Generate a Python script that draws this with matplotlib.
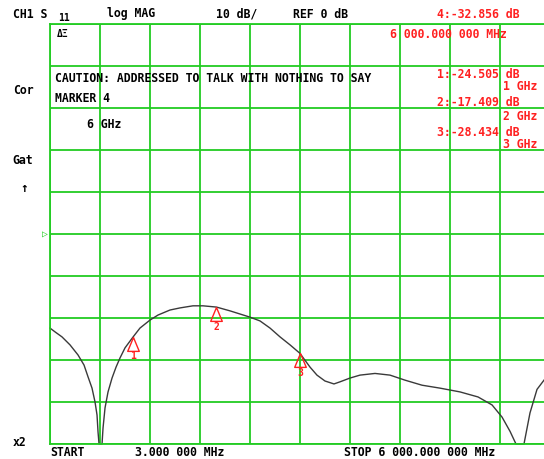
import matplotlib
matplotlib.use("Agg")
import matplotlib.pyplot as plt
from matplotlib.path import Path

# S11 log MAG trace (GHz, dB)
freq_ghz = [0.003, 0.063, 0.147, 0.243, 0.339, 0.411, 0.459, 0.507, 0.543, 0.567,
            0.579, 0.591, 0.627, 0.639, 0.663, 0.699, 0.747, 0.795, 0.843, 0.903,
            1.0, 1.082, 1.202, 1.298, 1.442, 1.562, 1.718, 1.838, 2.0, 2.162,
            2.402, 2.522, 2.642, 2.762, 2.882, 3.0, 3.122, 3.205, 3.301, 3.409,
            3.481, 3.601, 3.721, 3.901, 4.081, 4.261, 4.465, 4.681, 4.921, 5.137,
            5.305, 5.425, 5.521, 5.592, 5.688, 5.760, 5.844, 5.928, 6.0]
mag_db = [-22.4, -23.3, -24.5, -26.4, -28.8, -31.2, -34.0, -36.7, -40.0, -43.1,
          -47.1, -50.0, -50.0, -46.2, -41.4, -37.6, -34.3, -31.7, -29.5, -27.1,
          -24.5, -22.4, -20.5, -19.3, -18.1, -17.6, -17.1, -17.1, -17.4, -18.3,
          -19.8, -20.7, -22.4, -24.5, -26.4, -28.4, -31.7, -33.6, -35.0, -35.7,
          -35.2, -34.3, -33.6, -33.2, -33.6, -34.8, -36.0, -36.7, -37.6, -38.8,
          -40.7, -43.6, -47.0, -50.0, -50.0, -42.6, -37.0, -34.8, -32.9]

marker_freq = [1.0, 2.0, 3.0]
marker_db = [-24.505, -17.409, -28.434]
marker_names = ["1", "2", "3"]
active_freq = 6.0
active_db = -32.856

W, H = 544, 459
GREEN = "#22cc22"
RED = "#ff2020"
FONT = "DejaVu Sans Mono"

fig = plt.figure(figsize=(W / 100, H / 100), dpi=100)
fig.patch.set_facecolor("white")
# screen grid spans x 50..550 px (right edge cut off), y 24..444 px
ax = fig.add_axes([50 / W, 1 - 444 / H, 500 / W, 420 / H])
ax.set_xlim(0.003, 6.0)
ax.set_ylim(-50, 50)
ax.set_xticks([0.003 + i * 5.997 / 10 for i in range(11)])
ax.set_yticks(range(-50, 51, 10))
ax.tick_params(length=0, labelbottom=False, labelleft=False)
ax.grid(True, color=GREEN, lw=1.3)
for s in ax.spines.values():
    s.set_color(GREEN)
    s.set_linewidth(1.3)

ax.plot(freq_ghz, mag_db, color="#3a3a3a", lw=1.0, clip_on=False)

up_tri = Path([(0, 0), (-0.5, -1.2), (0.5, -1.2), (0, 0)])
down_tri = Path([(0, 0), (-0.5, 1.2), (0.5, 1.2), (0, 0)])
for f, d, n in zip(marker_freq, marker_db, marker_names):
    ax.plot([f], [d], marker=up_tri, ms=20, mfc="none", mec=RED, mew=1.0)
    ax.annotate(n, (f, d), xytext=(0, -14), textcoords="offset points",
                ha="center", va="center", color=RED, fontsize=7,
                fontweight="bold", family=FONT)
ax.plot([active_freq], [active_db], marker=down_tri, ms=20, mfc="none",
        mec=RED, mew=1.0, clip_on=False)


def txt(x, y, s, color="black", size=8.3, ha="left"):
    fig.text(x / W, 1 - y / H, s, color=color, fontsize=size, ha=ha,
             va="center", fontweight="bold", family=FONT)


txt(13, 14, "CH1 S")
txt(58, 18, "11", size=7)
txt(107, 14, "log MAG")
txt(216, 14, "10 dB/")
txt(293, 14, "REF 0 dB")
txt(437, 14, "4:-32.856 dB", RED)
txt(390, 35, "6 000.000 000 MHz", RED)
txt(57, 34, "ΔΞ", size=7)
txt(55, 79, "CAUTION: ADDRESSED TO TALK WITH NOTHING TO SAY")
txt(55, 99, "MARKER 4")
txt(87, 124, "6 GHz")
txt(13, 90, "Cor")
txt(12, 161, "Gat")
txt(20, 188, "↑", size=9)
txt(42, 234, "▷", GREEN, size=7)
txt(437, 74, "1:-24.505 dB", RED)
txt(503, 86, "1 GHz", RED)
txt(437, 103, "2:-17.409 dB", RED)
txt(503, 116, "2 GHz", RED)
txt(437, 132, "3:-28.434 dB", RED)
txt(503, 145, "3 GHz", RED)
txt(13, 442, "x2")
txt(50, 452, "START")
txt(135, 452, "3.000 000 MHz")
txt(344, 452, "STOP 6 000.000 000 MHz")

fig.savefig("out.png", dpi=100)
